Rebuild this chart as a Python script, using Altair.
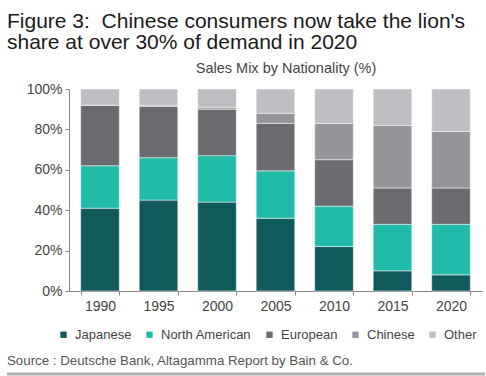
import altair as alt
import pandas as pd

years = ["1990", "1995", "2000", "2005", "2010", "2015", "2020"]
series = ["Japanese", "North American", "European", "Chinese", "Other"]
japanese = [41, 45, 44, 36, 22, 10, 8]
north_american = [21, 21, 23, 23.5, 20, 23, 25]
european = [30, 25.4, 23, 23.5, 23, 18, 18]
chinese = [0, 0.6, 1, 5, 18, 31, 28]
other = [8, 8, 9, 12, 17, 18, 21]
colors = ["#115a5b", "#21bba9", "#6a6b6f", "#939598", "#bdbec1"]

rows = []
for name, vals in zip(series, [japanese, north_american, european, chinese, other]):
    for y, v in zip(years, vals):
        rows.append({"Year": y, "Nationality": name, "Share": v / 100.0,
                     "order": series.index(name)})
df = pd.DataFrame(rows)

FONT = "Liberation Sans"
W, H = 413, 202

bars = alt.Chart(df).mark_bar(stroke="white", strokeWidth=0.5).encode(
    x=alt.X("Year:N", sort=years, title=None,
            scale=alt.Scale(paddingInner=0.34, paddingOuter=0.2),
            axis=alt.Axis(labelAngle=0, tickBand="extent", domainColor="#888",
                          tickColor="#888", tickSize=4, labelFontSize=14,
                          labelColor="#444", labelFont=FONT, labelPadding=4)),
    y=alt.Y("Share:Q", stack="zero", title=None,
            scale=alt.Scale(domain=[0, 1]),
            axis=alt.Axis(format=".0%", values=[0, 0.2, 0.4, 0.6, 0.8, 1.0],
                          grid=False, domainColor="#888", tickColor="#888",
                          tickSize=4, labelFontSize=14, labelColor="#444",
                          labelFont=FONT, labelPadding=3)),
    color=alt.Color("Nationality:N", sort=series,
                    scale=alt.Scale(domain=series, range=colors),
                    legend=alt.Legend(title=None, orient="none", legendX=-12,
                                      legendY=239, direction="horizontal",
                                      columns=5, symbolType="square",
                                      symbolSize=40, symbolStrokeWidth=0,
                                      labelFontSize=13, labelFont=FONT,
                                      labelColor="#444", columnPadding=11,
                                      labelOffset=5, padding=0)),
    order=alt.Order("order:Q", sort="ascending"),
)

subtitle = alt.Chart(pd.DataFrame({"t": ["Sales Mix by Nationality (%)"]})).mark_text(
    font=FONT, fontSize=14.5, color="#444", align="center", baseline="alphabetic"
).encode(text="t:N", x=alt.value(217), y=alt.value(-16))

source = alt.Chart(pd.DataFrame({"t": ["Source : Deutsche Bank, Altagamma Report by Bain & Co."]})).mark_text(
    font=FONT, fontSize=13.3, color="#555", align="left", baseline="alphabetic"
).encode(text="t:N", x=alt.value(-62), y=alt.value(276))

rule = alt.Chart(pd.DataFrame({"a": [0]})).mark_rule(color="#b0b0b0", strokeWidth=3).encode(
    x=alt.value(-62), x2=alt.value(416), y=alt.value(285))

chart = alt.layer(bars, subtitle, source, rule).properties(
    width=W, height=H,
    autosize=alt.AutoSizeParams(type="none"),
    padding={"left": 69, "top": 89, "right": 4, "bottom": 85},
    title=alt.TitleParams(
        text=["Figure 3:\u00a0 Chinese consumers now take the lion's",
              "share at over 30% of demand in 2020"],
        anchor="start", frame="group", font=FONT, fontSize=21,
        fontWeight="normal", color="#1a1a1a", lineHeight=21, dx=-62, offset=8),
).configure_view(stroke=None)

chart.save("out.html", embed_options={"renderer": "svg", "actions": False})
